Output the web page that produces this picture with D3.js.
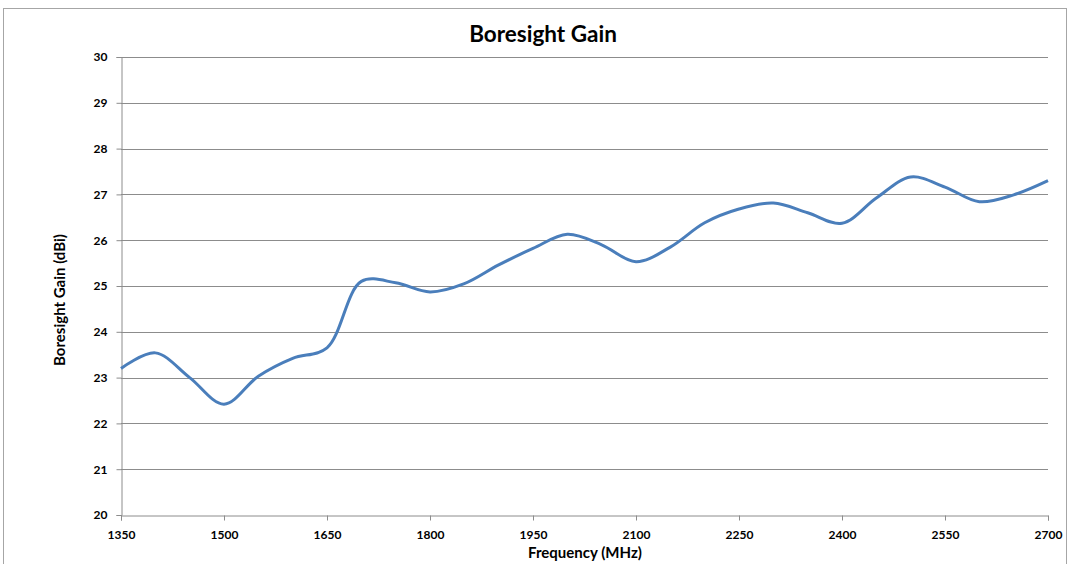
<!DOCTYPE html>
<html>
<head>
<meta charset="utf-8">
<script src="https://cdn.jsdelivr.net/npm/d3@7"></script>
<style>
  body { margin: 0; background: #fff; }
  text { font-family: Lato, "Open Sans", sans-serif; font-weight: bold; fill: #000; }
</style>
</head>
<body>
<svg id="chart" width="1070" height="564"></svg>
<script>
// frequency (MHz) and gain (dBi), every 50 MHz
const freqs = [1350, 1400, 1450, 1500, 1550, 1600, 1650, 1700, 1750, 1800, 1850, 1900, 1950, 2000,
  2050, 2100, 2150, 2200, 2250, 2300, 2350, 2400, 2450, 2500, 2550, 2600, 2650, 2700];
const gains = [23.2, 23.54, 23.0, 22.42, 23.03, 23.42, 23.65, 25.1, 25.07, 24.87, 25.05, 25.46, 25.82, 26.13,
  25.9, 25.53, 25.85, 26.38, 26.68, 26.81, 26.6, 26.37, 26.92, 27.38, 27.16, 26.84, 26.99, 27.3];
const xTicks = [1350, 1500, 1650, 1800, 1950, 2100, 2250, 2400, 2550, 2700];
const yTicks = [20, 21, 22, 23, 24, 25, 26, 27, 28, 29, 30];

const svg = d3.select("#chart");
const plotLeft = 121, plotRight = 1048, plotTop = 57, plotBottom = 515;

// outer chart border
svg.append("rect")
  .attr("x", 3.5).attr("y", 8.5)
  .attr("width", 1063).attr("height", 600)
  .attr("fill", "none").attr("stroke", "#a6a6a6");

let x = d3.scaleLinear().domain([1350, 2700]).range([plotLeft, plotRight]);
let y = d3.scaleLinear().domain([20, 30]).range([plotBottom, plotTop]);

// gridlines
svg.append("g").selectAll("line")
  .data(yTicks.filter(d => d > 20))
  .enter().append("line")
  .attr("x1", plotLeft).attr("x2", plotRight)
  .attr("y1", d => Math.round(y(d)) + 0.5).attr("y2", d => Math.round(y(d)) + 0.5)
  .attr("stroke", "#8c8c8c").attr("stroke-width", 1);

// axes
let yAxis = svg.append("g")
  .attr("transform", "translate(" + (plotLeft + 0.5) + ",0)")
  .call(d3.axisLeft(y).tickValues(yTicks).tickSize(5).tickPadding(9).tickFormat(d3.format("d")));
let xAxis = svg.append("g")
  .attr("transform", "translate(0," + (plotBottom + 0.5) + ")")
  .call(d3.axisBottom(x).tickValues(xTicks).tickSize(5).tickPadding(10).tickFormat(d3.format("d")));

[xAxis, yAxis].forEach(function (a) {
  a.select(".domain").attr("stroke", "#8c8c8c");
  a.selectAll(".tick line").attr("stroke", "#8c8c8c");
  a.selectAll("text").style("font-size", "12px").style("font-family", "Lato, sans-serif").style("font-weight", "bold");
});

// the curve
let line = d3.line()
  .x((d, i) => x(freqs[i]))
  .y(d => y(d))
  .curve(d3.curveCatmullRom.alpha(0.5));

svg.append("path")
  .datum(gains)
  .attr("d", line)
  .attr("fill", "none")
  .attr("stroke", "#4a7ebb")
  .attr("stroke-width", 3)
  .attr("stroke-linejoin", "round");

// titles
svg.append("text")
  .attr("x", 543).attr("y", 42)
  .attr("text-anchor", "middle")
  .style("font-size", "22.5px")
  .text("Boresight Gain");

svg.append("text")
  .attr("x", 585).attr("y", 558)
  .attr("text-anchor", "middle")
  .style("font-size", "15px")
  .text("Frequency (MHz)");

svg.append("text")
  .attr("transform", "translate(65,300) rotate(-90)")
  .attr("text-anchor", "middle")
  .style("font-size", "15px")
  .text("Boresight Gain (dBi)");
</script>
</body>
</html>
